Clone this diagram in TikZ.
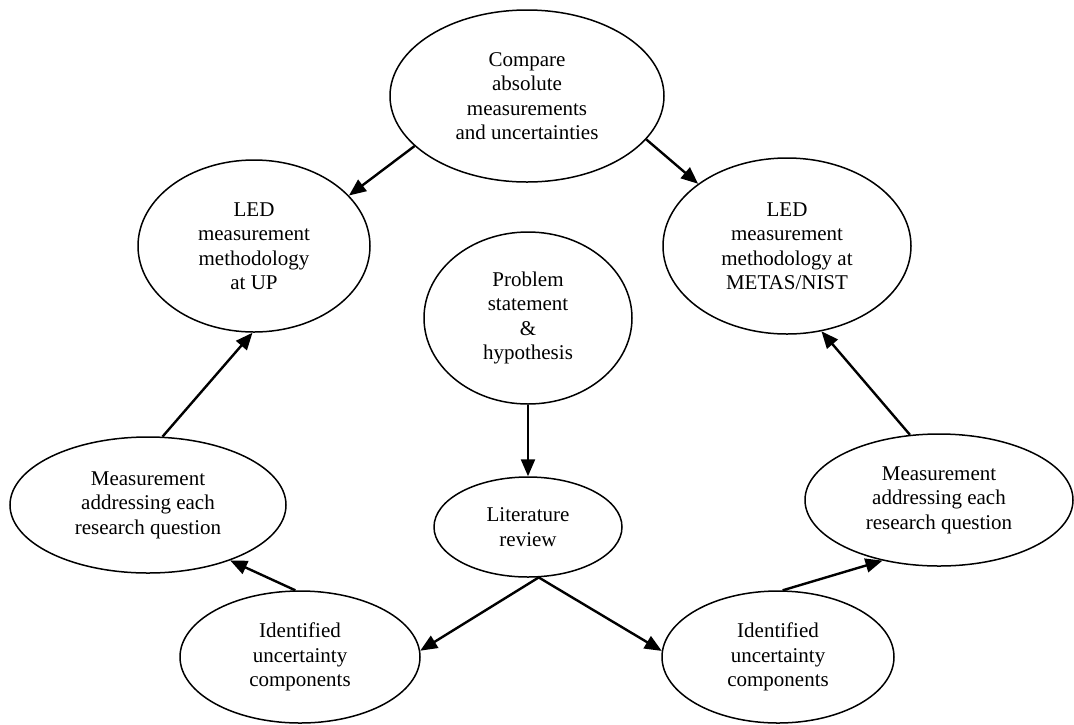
\documentclass[tikz,border=0pt]{standalone}
\usepackage{fontspec}
\setmainfont{Liberation Serif}
\usetikzlibrary{shapes.geometric,arrows.meta}
\begin{document}
\begin{tikzpicture}[x=1pt,y=-1pt,
  ell/.style={ellipse, draw, line width=1.5pt, inner sep=0pt, align=center,
    font=\fontsize{21}{24.5}\selectfont},
  arr/.style={line width=2.4pt, -{Triangle[length=17pt,width=14pt]}}]
\useasboundingbox (0,0) rectangle (1074,724);
\node[ell, minimum width=274pt, minimum height=172pt] (cmp) at (527,96)
  {Compare\\absolute\\measurements\\and uncertainties};
\node[ell, minimum width=232pt, minimum height=172pt] (up) at (254,246)
  {LED\\measurement\\methodology\\at UP};
\node[ell, minimum width=248pt, minimum height=176pt] (nist) at (787,246)
  {LED\\measurement\\methodology at\\METAS/NIST};
\node[ell, minimum width=208pt, minimum height=172pt] (prob) at (528,318)
  {Problem\\statement\\\&\\hypothesis};
\node[ell, minimum width=188pt, minimum height=100pt] (lit) at (528,527)
  {Literature\\review};
\node[ell, minimum width=276pt, minimum height=136pt] (mL) at (148,505)
  {Measurement\\addressing each\\research question};
\node[ell, minimum width=268pt, minimum height=132pt] (mR) at (939,500)
  {Measurement\\addressing each\\research question};
\node[ell, minimum width=240pt, minimum height=132pt] (iL) at (300,657)
  {Identified\\uncertainty\\components};
\node[ell, minimum width=232pt, minimum height=132pt] (iR) at (778,657)
  {Identified\\uncertainty\\components};
\draw[arr] (cmp.204.5) -- (up.28);
\draw[arr] (cmp.-20) -- (nist.145.6);
\draw[arr] (prob.south) -- (lit.north);
\draw[arr] (lit.-78) -- (iL.3);
\draw[arr] (lit.-78) -- (iR.177);
\draw[arr] (iL.94) -- (mL.-34);
\draw[arr] (mL.78) -- (up.-91);
\draw[arr] (iR.86) -- (mR.227);
\draw[arr] (mR.114) -- (nist.-68);
\end{tikzpicture}
\end{document}
